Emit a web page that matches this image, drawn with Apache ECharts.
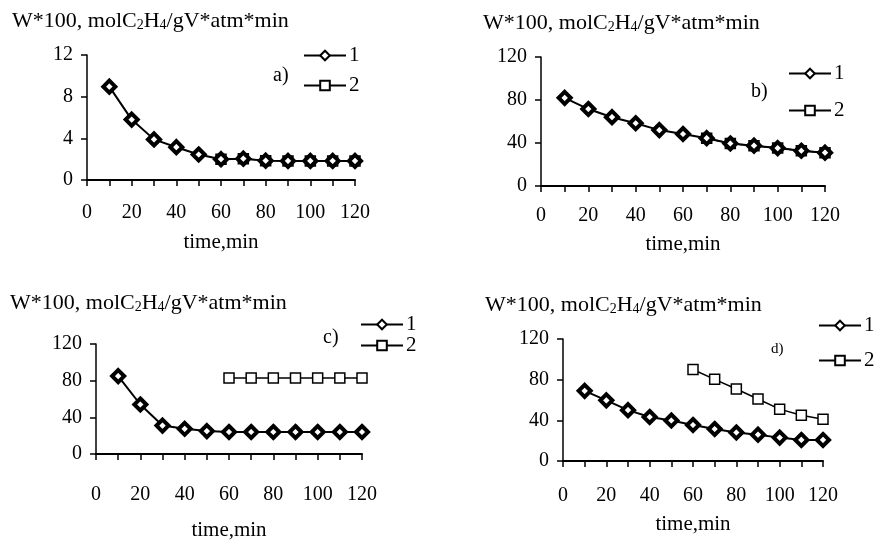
<!DOCTYPE html>
<html>
<head>
<meta charset="utf-8">
<script src="https://cdn.jsdelivr.net/npm/echarts@6/dist/echarts.min.js"></script>
<style>
  html, body { margin: 0; padding: 0; background: #fff; }
  #chart { width: 878px; height: 542px; }
</style>
</head>
<body>
<div id="chart"></div>
<script>
const time = [10, 20, 30, 40, 50, 60, 70, 80, 90, 100, 110, 120];

// panel a)
const a1 = [8.96, 5.8, 3.9, 3.15, 2.45, 2.0, 2.05, 1.86, 1.83, 1.83, 1.83, 1.83];
const a2 = [null, null, null, null, null, 2.0, 2.05, 1.86, 1.83, 1.83, 1.83, 1.83];
// panel b)
const b1 = [82, 71.6, 64, 58.4, 52, 48.4, 44.5, 39.5, 37.5, 35.3, 32.8, 31];
const b2 = [null, null, null, null, null, null, 44.5, 39.5, 37.5, 35.3, 32.8, 31];
// panel c)
const c1 = [85, 54, 31, 27.5, 25, 24, 24, 24, 24, 24, 24, 24];
const c2 = [null, null, null, null, null, 83, 83, 83, 83, 83, 83, 83];
// panel d)
const d1 = [69, 59.7, 50, 43.3, 39.8, 35.4, 31.5, 28, 25.9, 23, 20.7, 20.7];
const d2 = [null, null, null, null, null, 90, 80.3, 70.8, 61, 51, 45, 41];

const yMax = [12, 120, 120, 120];
const yStep = [4, 40, 40, 40];
const panelNames = ["a)", "b)", "c)", "d)"];
const heading = "W*100, molC{s|2}H{s|4}/gV*atm*min";

const font = "Liberation Serif";

const grids = [
  { left: 87, top: 55, width: 268, height: 125 },
  { left: 541, top: 57, width: 284, height: 129 },
  { left: 96, top: 344, width: 266, height: 122 },
  { left: 563, top: 339, width: 260, height: 122 },
];
const labelMargin = [23, 20, 31, 25];
const nameGap = [52, 48, 66, 53];

const headPos = [
  { left: 12, top: 10 },
  { left: 483, top: 12 },
  { left: 10, top: 292 },
  { left: 485, top: 294 },
];
const letterPos = [
  { left: 273, top: 66 },
  { left: 751, top: 82 },
  { left: 323, top: 328 },
  { left: 771, top: 342 },
];
const legendPos = [
  { left: 303, top: 45, itemGap: 9 },
  { left: 788, top: 63, itemGap: 16 },
  { left: 360, top: 314, itemGap: 0 },
  { left: 818, top: 315, itemGap: 14 },
];

function pairs(vals) {
  return time.map((t, i) => [t, vals[i]]).filter((p) => p[1] != null);
}

const s1Style = {
  type: "line",
  symbol: "diamond",
  symbolSize: 12,
  z: 3,
  lineStyle: { color: "#000", width: 2 },
  itemStyle: { color: "#fff", borderColor: "#000", borderWidth: 4 },
};
const s2Style = {
  type: "line",
  symbol: "rect",
  symbolSize: 10,
  z: 2,
  lineStyle: { color: "#000", width: 1.5 },
  itemStyle: { color: "#fff", borderColor: "#000", borderWidth: 1.5 },
};

const sets = [[a1, a2], [b1, b2], [c1, c2], [d1, d2]];
const series = [];
sets.forEach((pair, i) => {
  series.push(Object.assign({ name: "1", xAxisIndex: i, yAxisIndex: i, data: pairs(pair[0]) }, s1Style));
  series.push(Object.assign({ name: "2", xAxisIndex: i, yAxisIndex: i, data: pairs(pair[1]) }, s2Style));
});

const titles = [];
headPos.forEach((p) => {
  titles.push({
    text: heading,
    left: p.left,
    top: p.top,
    padding: 0,
    textStyle: {
      fontFamily: font, fontSize: 22, fontWeight: "normal", color: "#000",
      rich: { s: { fontFamily: font, fontSize: 14, color: "#000", padding: [8, 0, 0, 0] } },
    },
  });
});
letterPos.forEach((p, i) => {
  titles.push({
    text: panelNames[i],
    left: p.left,
    top: p.top,
    padding: 0,
    textStyle: { fontFamily: font, fontSize: i === 3 ? 15 : 20, fontWeight: "normal", color: "#000" },
  });
});

const chart = echarts.init(document.getElementById("chart"));
chart.setOption({
  backgroundColor: "#fff",
  animation: false,
  title: titles,
  legend: legendPos.map((p) => ({
    data: ["1", "2"],
    orient: "vertical",
    left: p.left,
    top: p.top,
    padding: 0,
    itemGap: p.itemGap,
    itemWidth: 42,
    itemHeight: 12,
    selectedMode: false,
    textStyle: { fontFamily: font, fontSize: 21, color: "#000", padding: [0, 0, 0, -2] },
  })),
  grid: grids,
  xAxis: grids.map((g, i) => ({
    type: "value",
    gridIndex: i,
    min: 0,
    max: 120,
    interval: 10,
    name: "time,min",
    nameLocation: "middle",
    nameGap: nameGap[i],
    nameTextStyle: { fontFamily: font, fontSize: 21, color: "#000" },
    axisLine: { show: true, onZero: false, lineStyle: { color: "#000", width: 2 } },
    axisTick: { show: true, length: 6, lineStyle: { color: "#000", width: 1.5 } },
    axisLabel: {
      margin: labelMargin[i],
      fontFamily: font,
      fontSize: 20,
      color: "#000",
      formatter: (v) => (v % 20 === 0 ? String(v) : ""),
    },
    splitLine: { show: false },
  })),
  yAxis: grids.map((g, i) => ({
    type: "value",
    gridIndex: i,
    min: 0,
    max: yMax[i],
    interval: yStep[i],
    axisLine: { show: true, lineStyle: { color: "#000", width: 1.5 } },
    axisTick: { show: true, length: 6, lineStyle: { color: "#000", width: 1.5 } },
    axisLabel: { margin: 14, fontFamily: font, fontSize: 20, color: "#000" },
    splitLine: { show: false },
  })),
  series: series,
});
</script>
</body>
</html>
